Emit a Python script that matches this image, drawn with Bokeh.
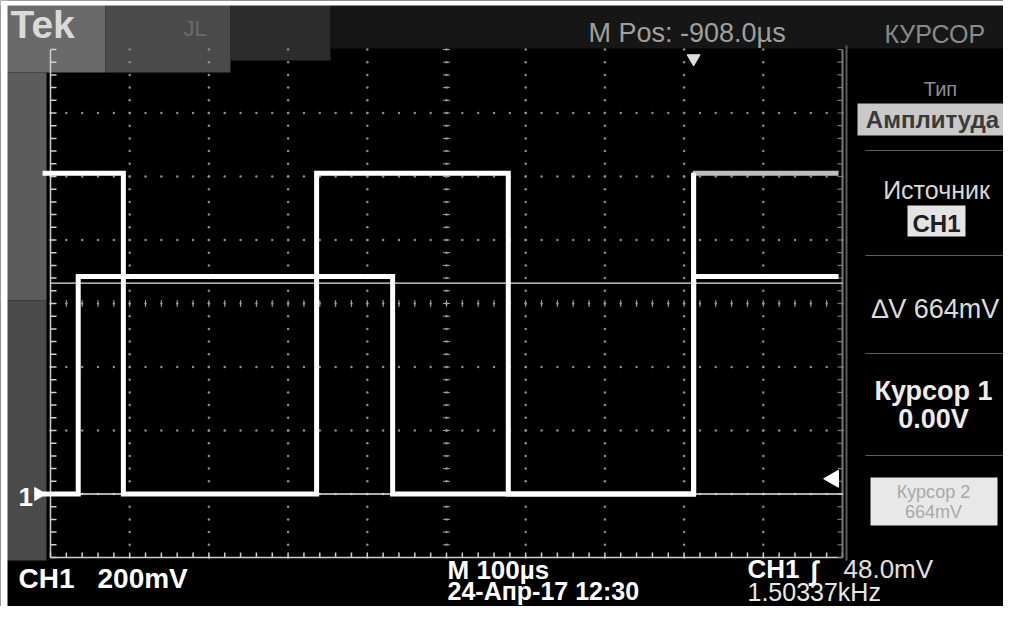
import numpy as np
from bokeh.plotting import figure
from bokeh.models import Range1d, Label
from bokeh.embed import file_html
from bokeh.resources import INLINE

# ---------------- scope settings / data ----------------
time_per_div_us = 100
volts_per_div = 0.2
h_divs = 10
v_divs = 8
v_bottom = -0.2                     # volts at graticule bottom (ground is 1 div above)

# trace A (tall square wave): edge times (us) and levels (V) between them
trace_a_edges_us = [-10, 92, 336, 578, 812, 995]
trace_a_levels_v = [1.01, 0.0, 1.01, 0.0, 1.01]
# trace B (lower square wave)
trace_b_edges_us = [-10, 35, 432, 812, 995]
trace_b_levels_v = [0.0, 0.685, 0.0, 0.685]

cursor1_v = 0.0
cursor2_v = 0.664
trigger_level_v = 0.048
trigger_time_us = 812

# ---------------- layout (pixels) ----------------
W, H = 1003, 606
G_L, G_R, G_T, G_B = 50, 842, 49, 557  # graticule in pixels

t_span = h_divs * time_per_div_us
v_span = v_divs * volts_per_div
us_pp = t_span / (G_R - G_L)
v_pp = v_span / (G_B - G_T)
x_start = 0 - G_L * us_pp
x_end = x_start + W * us_pp
v_top = v_bottom + v_span
y_end = v_top + G_T * v_pp
y_start = y_end - H * v_pp


def X(px):
    return x_start + px * us_pp


def Y(py):
    return y_end - py * v_pp


def steps(edges, levels):
    t, v = [], []
    for i, lv in enumerate(levels):
        t += [edges[i], edges[i + 1]]
        v += [lv, lv]
    return np.array(t, float), np.array(v, float)


p = figure(width=W, height=H, x_range=Range1d(x_start, x_end),
           y_range=Range1d(y_start, y_end), x_axis_type=None, y_axis_type=None,
           toolbar_location=None, output_backend="svg", min_border=0,
           background_fill_color="black", border_fill_color="black",
           outline_line_color=None)

# ---------------- photo-like background shading ----------------
bg = [  # left, right, top, bottom (px), colour
    (0, 105, 0, 72, "#6a6a6a"),
    (105, 230, 0, 72, "#4a4a4a"),
    (230, 330, 0, 60, "#2c2c2c"),
    (0, 46, 72, 300, "#5c5c5c"),
    (0, 46, 300, 560, "#4a4a4a"),
    (330, 1003, 0, 48, "#161616"),
    (0, 7, 0, 606, "white"),
    (0, 1003, 0, 5, "white"),
]
for l, r, t, b, c in bg:
    p.quad(left=X(l), right=X(r), top=Y(t), bottom=Y(b), fill_color=c, line_color=None)

# ---------------- graticule ----------------
tick_t = np.arange(0, t_span + 1e-9, time_per_div_us / 5)
tick_v = np.arange(v_bottom, v_top + 1e-9, volts_per_div / 5)
for k in range(1, h_divs):
    tt = k * time_per_div_us
    p.scatter(np.full(len(tick_v), tt), tick_v, size=2.5, color="#8c8c8c", line_color=None)
for k in range(1, v_divs):
    vv = v_bottom + k * volts_per_div
    p.scatter(tick_t, np.full(len(tick_t), vv), size=2.5, color="#8c8c8c", line_color=None)
# centre cross minor ticks
tc = t_span / 2
vc = v_bottom + v_span / 2
p.scatter(np.full(len(tick_v), tc), tick_v, marker="dash", size=7, line_color="#a0a0a0")
p.scatter(tick_t, np.full(len(tick_t), vc), marker="dash", angle=np.pi / 2, size=7,
          line_color="#a0a0a0")
# frame edges with ticks
p.line([0, 0], [v_bottom, v_top], line_color="#cfcfcf", line_width=1.5)
p.segment(x0=np.zeros(len(tick_v)), y0=tick_v, x1=np.full(len(tick_v), 6 * us_pp),
          y1=tick_v, line_color="#cfcfcf", line_width=1.5)
p.line([0, t_span], [v_bottom, v_bottom], line_color="#cfcfcf", line_width=1.5)
p.segment(x0=tick_t, y0=np.full(len(tick_t), v_bottom), x1=tick_t,
          y1=np.full(len(tick_t), v_bottom + 5 * v_pp), line_color="#cfcfcf", line_width=1.5)
p.line([t_span, t_span], [v_bottom, v_top], line_color="#7a7a7a", line_width=2)
p.segment(x0=np.full(len(tick_v), t_span), y0=tick_v, x1=np.full(len(tick_v), t_span - 5 * us_pp),
          y1=tick_v, line_color="#7a7a7a", line_width=1.2)

# ---------------- cursors ----------------
for cv in (cursor1_v, cursor2_v):
    p.line([0, t_span], [cv, cv], line_color="#e6e6e6", line_width=1.3)

# ---------------- traces ----------------
ta, va = steps(trace_a_edges_us, trace_a_levels_v)
tb, vb = steps(trace_b_edges_us, trace_b_levels_v)
late = ta >= trigger_time_us
p.line(ta[late], va[late], line_color="#bdbdbd", line_width=5)
p.line([trigger_time_us, trigger_time_us], [trace_b_levels_v[-1], trace_a_levels_v[-1]],
       line_color="#bdbdbd", line_width=2.5)
p.line(tb, vb, line_color="white", line_width=5, line_join="miter")
early = ta <= trigger_time_us
p.line(ta[early], va[early], line_color="white", line_width=5, line_join="miter")

# markers: trigger level, trigger position, ground
p.scatter([X(833)], [trigger_level_v], marker="triangle", angle=np.pi / 2, size=17,
          color="white", line_color="white")
p.scatter([trigger_time_us], [Y(58)], marker="inverted_triangle", size=13,
          color="#dddddd", line_color="#dddddd")
p.scatter([X(38)], [cursor1_v], marker="triangle", angle=-np.pi / 2, size=13,
          color="white", line_color="white")

# ---------------- right panel ----------------
p.line([X(846), X(846)], [Y(45), Y(560)], line_color="#5a5a5a", line_width=2)
for sy in (150, 255, 353, 455):
    p.line([X(865), X(1003)], [Y(sy), Y(sy)], line_color="#5e5e5e", line_width=1)
boxes = [(857, 1003, 103, 135, "#c9c9c9"), (907, 965, 205, 236, "#e4e4e4"),
         (870, 997, 477, 525, "#e8e8e8")]
for l, r, t, b, c in boxes:
    p.quad(left=X(l), right=X(r), top=Y(t), bottom=Y(b), fill_color=c, line_color=None)

# ---------------- texts ----------------
F = "Liberation Sans"
texts = [  # text, x, baseline y, size, colour, align, bold
    ("Tek", 10, 37, 39, "#dadada", "left", True),
    ("JL", 183, 35, 22, "#6a6a6a", "left", False),
    ("M Pos: -908.0µs", 588, 41, 27, "#a0a0a0", "left", False),
    ("КУРСОР", 884, 42, 25, "#8a8a8a", "left", False),
    ("Тип", 940, 95, 20, "#8f8f8f", "center", False),
    ("Амплитуда", 932, 127, 24, "#3a3a3a", "center", True),
    ("Источник", 936, 198, 25, "#d8d8d8", "center", False),
    ("CH1", 936, 231, 24, "#202020", "center", True),
    ("∆V 664mV", 935, 317, 27, "#dcdcdc", "center", False),
    ("Курсор 1", 933, 399, 27, "#ececec", "center", True),
    ("0.00V", 933, 427, 27, "#ececec", "center", True),
    ("Курсор 2", 933, 497, 18, "#a8a8a8", "center", False),
    ("664mV", 933, 517, 18, "#a8a8a8", "center", False),
    ("1", 18, 505, 26, "white", "left", True),
    ("CH1", 18, 587, 28, "white", "left", True),
    ("200mV", 97, 587, 28, "white", "left", True),
    ("M 100µs", 447, 578, 26, "white", "left", True),
    ("24-Апр-17 12:30", 447, 599, 25, "white", "left", True),
    ("CH1", 747, 577, 26, "white", "left", True),
    ("∫", 810, 579, 27, "white", "left", True),
    ("48.0mV", 843, 577, 26, "#e0e0e0", "left", False),
    ("1.50337kHz", 747, 600, 25, "#e8e8e8", "left", False),
]
for txt, x, y, s, c, al, b in texts:
    p.add_layout(Label(x=X(x), y=Y(y - s / 3.0), text=txt, text_font=F,
                       text_font_size=f"{s}px", text_color=c, text_align=al,
                       text_baseline="alphabetic",
                       text_font_style="bold" if b else "normal"))

open("out.html", "w").write(file_html(p, INLINE))
